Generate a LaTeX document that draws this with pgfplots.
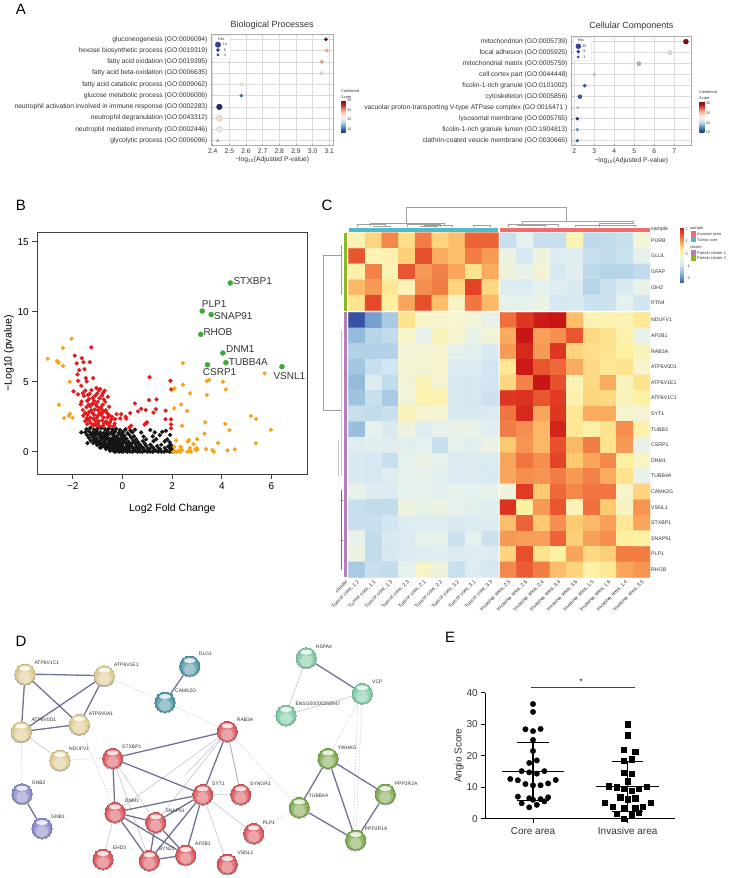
\documentclass[border=0pt]{standalone}
\usepackage{fontspec}
\usepackage{pgfplots}
\pgfplotsset{compat=1.18}
\setmainfont{Liberation Sans}
\newcommand\fs[1]{\fontsize{#1}{#1}\selectfont}
\definecolor{dtext}{HTML}{333333}
\definecolor{edgeA}{HTML}{6E7298}
\definecolor{edgeB}{HTML}{C4C5D6}
\definecolor{hitblue}{HTML}{2F3F95}
\definecolor{antea}{HTML}{4FBAC9}
\definecolor{antred}{HTML}{EE6E6E}
\definecolor{antgreen}{HTML}{8AB825}
\definecolor{antpurple}{HTML}{B57FBD}
\definecolor{ballY}{HTML}{DCCB8E}
\definecolor{ballV}{HTML}{8A8AC8}
\definecolor{ballT}{HTML}{4F97A8}
\definecolor{ballR}{HTML}{D9585E}
\definecolor{ballM}{HTML}{7CC8A4}
\definecolor{ballG}{HTML}{7FA94F}
\definecolor{volred}{HTML}{E31A1C}
\definecolor{volorange}{HTML}{F6A317}
\definecolor{volgreen}{HTML}{3DAA35}
% text at page pixel position
\newcommand\T[4][5]{\node[anchor=west,inner sep=0pt,text=dtext,font=\fs{#1}] at (#2,#3) {#4};}
\newcommand\Bx[5]{\addplot[fill=#1,draw=none,forget plot] coordinates {(#2,#3)(#4,#3)(#4,#5)(#2,#5)} --cycle;}
\newcommand\balls[2]{%
 \addplot[only marks,mark=*,mark size=10.2pt,color=black!30,mark options={line width=0pt,yshift=-.8pt}] coordinates {#2};
 \addplot[only marks,mark=*,mark size=10pt,color=#1!90!black,mark options={line width=0pt}] coordinates {#2};
 \addplot[only marks,mark=*,mark size=9.2pt,color=#1,mark options={line width=0pt}] coordinates {#2};
 \addplot[only marks,mark=*,mark size=7.5pt,color=#1!80!white,mark options={line width=0pt,yshift=-1.5pt}] coordinates {#2};
 \addplot[only marks,mark=*,mark size=5.5pt,color=#1!55!white,mark options={line width=0pt,yshift=-3pt}] coordinates {#2};
 \addplot[only marks,mark=*,mark size=6pt,color=white,mark options={line width=0pt,fill opacity=.8,draw opacity=0,yshift=5.5pt,yscale=.4}] coordinates {#2};
}
\pgfplotsset{
 colormap={rdbu}{rgb255=(27,47,107) rgb255=(46,98,166) rgb255=(90,155,205) rgb255=(169,205,230) rgb255=(220,233,242) rgb255=(247,245,240) rgb255=(249,213,195) rgb255=(244,165,130) rgb255=(214,96,77) rgb255=(165,28,36) rgb255=(127,16,16)},
 colormap={hm}{rgb255=(57,83,164) rgb255=(93,137,193) rgb255=(132,177,214) rgb255=(174,207,229) rgb255=(214,232,242) rgb255=(230,241,238) rgb255=(246,245,208) rgb255=(255,239,156) rgb255=(253,200,112) rgb255=(247,154,85) rgb255=(238,107,59) rgb255=(224,58,34) rgb255=(200,21,21)},
 goplot/.style={
  scale only axis,anchor=south west,clip=false,
  colormap name=rdbu,
  grid=major,major grid style={gray!28,line width=.6pt},
  axis line style={gray!65,line width=.8pt},
  tick style={gray!70,line width=.4pt},major tick length=1.5pt,
  xtick pos=bottom,ytick pos=left,
  ytick={0,...,9},
  tick label style={font=\fs{6.7},text=dtext},
  /pgf/number format/assume math mode=true,
  xticklabel style={/pgf/number format/fixed,/pgf/number format/fixed zerofill,/pgf/number format/precision=1},
  title style={font=\fs{9},text=dtext},
  xlabel style={font=\fs{6.7},text=dtext,yshift=3.5pt},
 },
 gobar/.style={
  scale only axis,width=4.7pt,
  at={(parent axis.south east)},anchor=south west,
  axis line style={draw=none},
  tick style={draw=none},
  ytick pos=right,
  yticklabel style={font=\fs{3.6},text=dtext,xshift=-2pt},
  /pgf/number format/assume math mode=true,
 },
 goscat/.style={scatter,only marks,mark=*,point meta=explicit,
  visualization depends on={\thisrow{s}\as\ms},
  scatter/@pre marker code/.append style={/tikz/mark size=\ms}},
}
\begin{document}
\begin{tikzpicture}[x=1pt,y=1pt]
\path[use as bounding box] (0,0) rectangle (729,878);

% ---- page layer: heat map (C) and network (D), coordinates in picture pixels
\begin{axis}[
 at={(0pt,0pt)},anchor=south west,scale only axis,width=729pt,height=878pt,
 xmin=0,xmax=729,ymin=0,ymax=878,y dir=reverse,clip=false,
 hide axis,no markers,
 colormap name=hm,point meta min=-2.4,point meta max=2.2,
 colorbar,
 colorbar style={scale only axis,width=3.6pt,height=56pt,
  at={(parent axis.south west)},anchor=south west,xshift=671.5pt,yshift=595pt,
  axis line style={draw=none},tick style={draw=none},
  ytick={-2,-1,0,1,2},yticklabels={−2,−1,0,1,2},
  yticklabel style={font=\fs{3.8},text=dtext,xshift=-1.5pt}},
]
\node[font=\fs{15},anchor=center] at (21,9) {A};
\node[font=\fs{15},anchor=center] at (21,205) {B};
\node[font=\fs{15},anchor=center] at (327,205) {C};
\node[font=\fs{15},anchor=center] at (21,641) {D};
\node[font=\fs{15},anchor=center] at (450,637) {E};

% heat map blocks, cell values row by row
\pgfplotsset{hmcell/.style={matrix plot,mesh/cols=9,point meta=explicit,faceted color=gray!55,line width=.35pt}}
\addplot[hmcell] table[row sep=\\,header=false,meta index=0,
 x expr={356.8+16.67*mod(\coordindex,9)},y expr={240.5+15.6*floor((\coordindex+.5)/9)}] {
.1\\.55\\1.2\\.45\\1.3\\.55\\.75\\1.5\\1.5\\
1.6\\.1\\.15\\.6\\1.65\\.9\\.75\\1.3\\1.05\\
.2\\1.25\\.1\\1.6\\1.05\\1.25\\.95\\.4\\.9\\
.8\\1.05\\.35\\.08\\1.15\\1.3\\.55\\1.75\\.5\\
.4\\1.7\\.25\\.95\\1.65\\.75\\0\\1.35\\.8\\
};
\addplot[hmcell] table[row sep=\\,header=false,meta index=0,
 x expr={508.3+16.67*mod(\coordindex,9)},y expr={240.5+15.6*floor((\coordindex+.5)/9)}] {
-1.0\\-.5\\-1\\-1\\.1\\-1.1\\-1.05\\-1\\-.2\\
-.35\\-.85\\-.3\\-.7\\-.6\\-1\\-1.05\\-.95\\-.45\\
-.25\\-.4\\-.15\\-.85\\-.6\\-1.1\\-1.15\\-1.15\\-1.05\\
-.7\\-.7\\-.5\\-.65\\-.8\\-1.15\\-.95\\-.8\\-.4\\
-.45\\-.45\\-.35\\-.85\\-.8\\-.95\\-.95\\-.5\\-.9\\
};
\addplot[hmcell] table[row sep=\\,header=false,meta index=0,
 x expr={356.8+16.67*mod(\coordindex,9)},y expr={320.1+15.6*floor((\coordindex+.5)/9)}] {
-2.4\\-1.8\\-1.3\\.4\\-.05\\-.1\\-.1\\-.2\\-.4\\
-1.5\\-1.15\\-1.05\\-.05\\-.45\\.05\\-.1\\-.4\\-.2\\
-1.2\\-1.2\\-1.2\\-.2\\-.15\\-.1\\-.45\\-.55\\-.8\\
-1.35\\-1\\-.9\\-.15\\-.15\\-.1\\-.7\\-.75\\-.9\\
-1.5\\-.7\\-1.05\\-.2\\.1\\-.15\\-.8\\-.85\\-.9\\
-1.4\\-1\\-1.3\\-.2\\.12\\.15\\-.8\\-.85\\-.95\\
-1\\-1.05\\-1\\.05\\-.15\\-.15\\-.8\\-.8\\-.75\\
-1.45\\-.45\\-.8\\-.3\\-.65\\-.45\\-.4\\-.4\\-.6\\
-.65\\-.6\\-.65\\-.55\\-.5\\-1\\-.45\\-.55\\-.35\\
-.8\\-.85\\-1\\-.45\\-.35\\-.45\\-.75\\-.7\\-.75\\
-.8\\-.85\\-.65\\-.45\\-.45\\-.55\\-.7\\-.7\\-.8\\
-.4\\-.7\\-.75\\-.5\\-.45\\-.55\\-.45\\-.5\\-.4\\
-1\\-1.05\\-1.05\\-.3\\-.4\\-.35\\-.45\\-.55\\-.6\\
-1\\-1\\-.9\\-.7\\-.65\\-.65\\-.8\\-.7\\-.7\\
-.4\\-1.05\\-.8\\-.75\\-.45\\-.45\\-.95\\-.5\\-.95\\
-.3\\-1.05\\-.85\\-.75\\-.65\\-.6\\-.75\\-.65\\-.7\\
-1.3\\-1\\-1.05\\-.5\\-.05\\-.25\\-1\\-.7\\-.85\\
};
\addplot[hmcell] table[row sep=\\,header=false,meta index=0,
 x expr={508.3+16.67*mod(\coordindex,9)},y expr={320.1+15.6*floor((\coordindex+.5)/9)}] {
1.4\\1.85\\2.15\\2.2\\.75\\.1\\.15\\.1\\.35\\
.9\\2.2\\1\\1.15\\1.6\\.5\\.4\\.15\\-.4\\
1.05\\2\\1.05\\1.85\\.55\\.45\\.4\\.25\\.05\\
.35\\2.15\\1.6\\1.45\\.9\\.5\\.35\\.4\\-.05\\
.55\\1.25\\2.2\\1.65\\.1\\.5\\.9\\.05\\.4\\
1.85\\1.9\\1.6\\1.8\\.15\\.55\\.5\\.05\\.25\\
1.35\\2\\.95\\1.85\\.35\\.9\\.9\\-.1\\-.15\\
1.3\\1.15\\.8\\2.05\\.35\\.2\\.4\\1.15\\.18\\
.65\\1.1\\.8\\1.65\\.8\\1.3\\.4\\1.05\\-.4\\
.95\\1.35\\1.15\\1.75\\.65\\.95\\1.2\\.25\\-.02\\
.95\\1.15\\1.1\\1.3\\1.05\\1.25\\.9\\.4\\-.4\\
-.25\\1.8\\.65\\1.45\\1.2\\1.35\\1.35\\-.05\\.55\\
1.9\\.25\\1.05\\1.6\\.08\\1.4\\.65\\0\\1.1\\
.75\\1.5\\.65\\1.15\\.65\\.8\\1\\.35\\.95\\
1.05\\1\\1\\1.5\\.6\\1.0\\1.15\\.25\\.25\\
.55\\1.65\\.4\\.25\\.95\\.5\\.6\\1.3\\1.3\\
1.2\\1.55\\1.3\\.75\\.55\\.2\\.35\\.95\\1.1\\
};
% annotation bars
\Bx{antea}{348.5}{227.7}{498}{231.7}
\Bx{antred}{500}{227.7}{650}{231.7}
\Bx{antgreen}{343.7}{232.7}{347}{310.7}
\Bx{antpurple}{343.7}{312.3}{347}{577.3}
% dendrograms
\addplot[gray!75,line width=.45pt,unbounded coords=jump] table[row sep=\\] {
x y\\
406.3 223\\406.3 207.3\\566.7 207.3\\566.7 221.7\\nan nan\\
370 226\\370 223\\444 223\\444 226\\nan nan\\
357 227\\357 224.5\\385 224.5\\385 227\\nan nan\\
373 227\\373 226\\390 226\\390 227\\nan nan\\
407 227\\407 224.7\\440 224.7\\440 227\\nan nan\\
424 227\\424 225.5\\452 225.5\\452 227\\nan nan\\
420 227\\420 226\\437 226\\437 227\\nan nan\\
473 227\\473 225.5\\490 225.5\\490 227\\nan nan\\
522 223.5\\522 221.7\\633 221.7\\633 223.5\\nan nan\\
508 227\\508 224\\558 224\\558 227\\nan nan\\
517 226\\517 225\\545 225\\545 227\\nan nan\\
575 227\\575 225\\635 225\\635 227\\nan nan\\
599 227\\599 223.5\\634 223.5\\nan nan\\
341 255\\323.3 255\\323.3 410\\341 410\\nan nan\\
341 245\\341 295\\nan nan\\
};
\addplot[gray!45,line width=1pt,unbounded coords=jump] table[row sep=\\] {
x y\\341 330\\341 475\\nan nan\\338.5 440\\338.5 476\\nan nan\\
};
\addplot[black!55,line width=.5pt,unbounded coords=jump] table[row sep=\\] {
x y\\341 490\\341 570\\nan nan\\341 500\\343 500\\nan nan\\341 540\\343 540\\nan nan\\
};
% heat map labels
\T[5.2]{651}{229.5}{sample}
\T[5.2]{651}{240.5}{PURB}\T[5.2]{651}{256.1}{GLUL}\T[5.2]{651}{271.7}{GFAP}\T[5.2]{651}{287.3}{IDH2}\T[5.2]{651}{302.9}{RTN4}
\T[5.2]{651}{320.1}{NDUFV1}\T[5.2]{651}{335.7}{AP2B1}\T[5.2]{651}{351.3}{RAB3A}\T[5.2]{651}{366.9}{ATP6V0D1}\T[5.2]{651}{382.5}{ATP6V1E1}\T[5.2]{651}{398.1}{ATP6V1C1}\T[5.2]{651}{413.7}{SYT1}\T[5.2]{651}{429.3}{TUBB3}\T[5.2]{651}{444.9}{CSRP1}\T[5.2]{651}{460.5}{DNM1}\T[5.2]{651}{476.1}{TUBB4A}\T[5.2]{651}{491.7}{CAMK2G}\T[5.2]{651}{507.3}{VSNL1}\T[5.2]{651}{522.9}{STXBP1}\T[5.2]{651}{538.5}{SNAP91}\T[5.2]{651}{554.1}{PLP1}\T[5.2]{651}{569.7}{RHOB}
\foreach \xx/\lab in {345.5/cluster,356.8/{Tumor core, 1.2},373.5/{Tumor core, 1.1},390.1/{Tumor core, 1.3},406.8/{Tumor core, 2.3},423.5/{Tumor core, 2.1},440.1/{Tumor core, 2.2},456.8/{Tumor core, 3.2},473.5/{Tumor core, 3.1},490.1/{Tumor core, 3.3},508.3/{Invasive area, 2.5},525/{Invasive area, 2.6},541.6/{Invasive area, 2.4},558.3/{Invasive area, 3.4},575/{Invasive area, 3.6},591.6/{Invasive area, 1.5},608.3/{Invasive area, 1.6},625/{Invasive area, 1.4},641.6/{Invasive area, 3.5}}{
 \edef\tmp{\noexpand\node[anchor=north east,rotate=45,inner sep=0pt,text=dtext,font=\noexpand\fs{5.2}] at (axis cs:\xx,579.5) {\lab};}\tmp
}
% heat map legend
\T[4]{690}{228}{sample}
\Bx{antred}{690.7}{231}{695.7}{236.7}
\Bx{antea}{690.7}{236.7}{695.7}{242.3}
\T[4]{697}{234}{Invasive area}\T[4]{697}{240}{Tumor core}
\T[4]{690}{247.3}{cluster}
\Bx{antpurple}{690.7}{250}{695.7}{255.5}
\Bx{antgreen}{690.7}{255.5}{695.7}{261}
\T[4]{697}{252.7}{Protein cluster 1}\T[4]{697}{258.2}{Protein cluster 2}

% network edges, dotted ones first
\addplot[gray!45,dash pattern=on 1.5pt off 1.5pt,line width=.5pt,unbounded coords=jump] table[row sep=\\] {
x y\\
104.3 675.7\\165 702\\nan nan\\165 702\\227.3 731.3\\nan nan\\
79.3 724.3\\115 812.3\\nan nan\\21.3 731.7\\22 793.7\\nan nan\\
60 760\\112.7 758.3\\nan nan\\227.3 731.3\\299.3 807.3\\nan nan\\
299.3 807.3\\253.7 833.3\\nan nan\\362.3 693.3\\328 758.3\\nan nan\\
362.3 693.3\\355.7 840\\nan nan\\358 693.3\\353 840\\nan nan\\
};
\addplot[edgeB,line width=.6pt,unbounded coords=jump] table[row sep=\\] {
x y\\
21.3 731.7\\60 760\\nan nan\\306.3 657.7\\286 715\\nan nan\\286 715\\362.3 693.3\\nan nan\\
227.3 731.3\\115 812.3\\nan nan\\227.3 731.3\\155.7 822.3\\nan nan\\
202.7 794.3\\253.7 833.3\\nan nan\\202.7 794.3\\227.3 864\\nan nan\\
112.7 758.3\\155.7 822.3\\nan nan\\112.7 758.3\\149.3 860.3\\nan nan\\
115 812.3\\103 859\\nan nan\\
227.3 731.3\\185 775\\nan nan\\202.7 794.3\\240.7 794.3\\nan nan\\
};
\addplot[edgeB!60!edgeA,line width=.8pt,unbounded coords=jump] table[row sep=\\] {
x y\\227.3 731.3\\240.7 794.3\\nan nan\\
};
\addplot[edgeA,line width=1.3pt,unbounded coords=jump] table[row sep=\\] {
x y\\
25 674\\104.3 675.7\\nan nan\\25 674\\21.3 731.7\\nan nan\\25 674\\79.3 724.3\\nan nan\\
104.3 675.7\\21.3 731.7\\nan nan\\104.3 675.7\\79.3 724.3\\nan nan\\21.3 731.7\\79.3 724.3\\nan nan\\
189.7 666\\165 702\\nan nan\\22 793.7\\42 828\\nan nan\\306.3 657.7\\362.3 693.3\\nan nan\\
299.3 807.3\\328 758.3\\nan nan\\328 758.3\\355.7 840\\nan nan\\328 758.3\\385.3 794\\nan nan\\
385.3 794\\355.7 840\\nan nan\\299.3 807.3\\355.7 840\\nan nan\\
112.7 758.3\\227.3 731.3\\nan nan\\112.7 758.3\\202.7 794.3\\nan nan\\112.7 758.3\\115 812.3\\nan nan\\
115 812.3\\202.7 794.3\\nan nan\\115 812.3\\155.7 822.3\\nan nan\\115 812.3\\149.3 860.3\\nan nan\\
115 812.3\\185.7 855\\nan nan\\155.7 822.3\\202.7 794.3\\nan nan\\155.7 822.3\\149.3 860.3\\nan nan\\
155.7 822.3\\185.7 855\\nan nan\\202.7 794.3\\149.3 860.3\\nan nan\\202.7 794.3\\185.7 855\\nan nan\\
149.3 860.3\\185.7 855\\nan nan\\227.3 731.3\\202.7 794.3\\nan nan\\
};
% network nodes by cluster
\balls{ballY}{(25,674)(104.3,675.7)(21.3,731.7)(79.3,724.3)(60,760)}
\balls{ballV}{(22,793.7)(42,828)}
\balls{ballT}{(189.7,666)(165,702)}
\balls{ballR}{(112.7,758.3)(115,812.3)(155.7,822.3)(202.7,794.3)(103,859)(149.3,860.3)(185.7,855)(227.3,731.3)(240.7,794.3)(253.7,833.3)(227.3,864)}
\balls{ballM}{(306.3,657.7)(362.3,693.3)(286,715)}
\balls{ballG}{(328,758.3)(385.3,794)(299.3,807.3)(355.7,840)}
\T{34.3}{662.7}{ATP6V1C1}\T{114}{664.3}{ATP6V1E1}\T{31.3}{720}{ATP6V0D1}\T{88.7}{713.7}{ATP6V0A1}
\T{69}{748.7}{NDUFV1}\T{122}{746.7}{STXBP1}\T{31.7}{782.3}{GNB2}\T{51}{816.3}{GNB1}
\T{124.7}{800.3}{DNM1}\T{165.3}{810.7}{SNAP91}\T{212}{783.7}{SYT1}\T{112.7}{847.3}{EHD3}
\T{158.7}{848.7}{SYNJ1}\T{195}{844}{AP2B1}\T{198.7}{653.3}{DLG1}\T{175}{691}{CAMK2G}
\T{236.7}{719.7}{RAB3A}\T{250}{783.7}{SYNGR1}\T{262.7}{822.3}{PLP1}\T{237.3}{852.7}{VSNL1}
\T{315.7}{646.3}{HSPA4}\T{372}{682}{VCP}\T{295.3}{703.3}{ENSG00000258947}\T{337.3}{747.3}{YWHAG}
\T{394.7}{783.3}{PPP2R2A}\T{308.7}{796}{TUBB4A}\T{364.7}{828.7}{PPP2R1A}
% volcano labels
\T[10]{233.3}{281.3}{STXBP1}\T[10]{201.7}{304}{PLP1}\T[10]{214}{316.3}{SNAP91}\T[10]{203.3}{331.7}{RHOB}
\T[10]{226}{349}{DNM1}\T[10]{228.7}{362.3}{TUBB4A}\T[10]{202.7}{372.3}{CSRP1}\T[10]{273.3}{376}{VSNL1}
% colour bar titles of panel A
\T[3.9]{341}{91}{Combined}\T[3.9]{341}{97}{Score}
\T[3.9]{699}{92}{Combined}\T[3.9]{699}{97.7}{Score}
\end{axis}

% ---- A left
\begin{axis}[goplot,at={(211pt,732.7pt)},width=122.3pt,height=111.3pt,
 xmin=2.39,xmax=3.124,ymin=-.41,ymax=9.47,
 xtick={2.4,2.5,2.6,2.7,2.8,2.9,3.0,3.1},
 yticklabels={glycolytic process (GO:0006096),neutrophil mediated immunity (GO:0002446),neutrophil degranulation (GO:0043312),neutrophil activation involved in immune response (GO:0002283),glucose metabolic process (GO:0006006),fatty acid catabolic process (GO:0009062),fatty acid beta-oxidation (GO:0006635),fatty acid oxidation (GO:0019395),hexose biosynthetic process (GO:0019319),gluconeogenesis (GO:0006094)},
 title={Biological Processes},title style={yshift=-5pt},xlabel={−log\textsubscript{10}(Adjusted P-value)},
 point meta min=13,point meta max=30,
 colorbar,colorbar style={gobar,xshift=-.8pt,yshift=12.6pt,height=32pt,ytick={15,20,25,30}},
]
\addplot[fill=white,draw=gray!15,forget plot] coordinates {(2.398,7.31)(2.504,7.31)(2.504,9.38)(2.398,9.38)} --cycle;
\addplot[goscat] table[meta=c] {
x y s c
3.08 9 1.7 30
3.085 8 1.7 24.5
3.055 7 1.7 24.9
3.055 6 1.7 19.5
2.572 5 1.7 21.5
2.572 4 1.6 15.5
2.44 3 2.8 13
2.44 2 2.8 22.7
2.44 1 2.8 20.5
2.43 0 1.4 17.8
};
\addplot[only marks,mark=*,mark size=2.7pt,hitblue] coordinates {(2.432,8.52)};
\addplot[only marks,mark=*,mark size=1.6pt,hitblue] coordinates {(2.432,8.05)};
\addplot[only marks,mark=*,mark size=1.2pt,hitblue] coordinates {(2.432,7.61)};
\node[font=\fs{3.6},text=dtext] at (2.452,8.99) {Hits};
\node[font=\fs{3.6},text=dtext] at (2.474,8.52) {14};
\node[font=\fs{3.6},text=dtext] at (2.474,8.05) {6};
\node[font=\fs{3.6},text=dtext] at (2.474,7.61) {4};
\end{axis}

% ---- A right
\begin{axis}[goplot,at={(571pt,732.3pt)},width=120.7pt,height=109pt,
 xmin=1.835,xmax=7.87,ymin=-.45,ymax=9.45,
 xtick={2,...,7},xticklabel style={/pgf/number format/precision=0},
 yticklabels={clathrin-coated vesicle membrane (GO:0030665),ficolin-1-rich granule lumen (GO:1904813),lysosomal membrane (GO:0005765),vacuolar proton-transporting V-type ATPase complex (GO:0016471 ),cytoskeleton (GO:0005856),ficolin-1-rich granule (GO:0101002),cell cortex part (GO:0044448),mitochondrial matrix (GO:0005759),focal adhesion (GO:0005925),mitochondrion (GO:0005739)},
 title={Cellular Components},title style={yshift=-3pt},xlabel={−log\textsubscript{10}(Adjusted P-value)},
 point meta min=10,point meta max=41.6,
 colorbar,colorbar style={gobar,xshift=-.5pt,yshift=13pt,height=31pt,ytick={10,20,30,40}},
]
\addplot[fill=white,draw=gray!15,forget plot] coordinates {(1.95,7.34)(2.82,7.34)(2.82,9.36)(1.95,9.36)} --cycle;
\addplot[goscat] table[meta=c] {
x y s c
7.58 9 2.5 41.6
6.78 8 2 22.3
5.23 7 2 18.5
3.0 6 1.4 20.4
2.52 5 1.7 13.2
2.28 4 2 13.2
2.17 3 1.2 19.5
2.15 2 1.5 10
2.15 1 1.5 17
2.15 0 1.4 13.2
};
\addplot[only marks,mark=*,mark size=2.5pt,hitblue] coordinates {(2.2,8.58)};
\addplot[only marks,mark=*,mark size=1.6pt,hitblue] coordinates {(2.2,8.09)};
\addplot[only marks,mark=*,mark size=1.1pt,hitblue] coordinates {(2.2,7.61)};
\node[font=\fs{3.6},text=dtext] at (2.33,9.15) {Hits};
\node[font=\fs{3.6},text=dtext] at (2.5,8.58) {30};
\node[font=\fs{3.6},text=dtext] at (2.5,8.09) {9};
\node[font=\fs{3.6},text=dtext] at (2.5,7.61) {3};
\end{axis}

% ---- B volcano
\begin{axis}[scale only axis,anchor=south west,at={(37.3pt,403.7pt)},width=270pt,height=241.6pt,
 xmin=-3.43,xmax=7.44,ymin=-1.61,ymax=15.64,
 xtick={-2,0,2,4,6},xticklabels={−2,0,2,4,6},
 ytick={0,5,10,15},
 xtick pos=bottom,ytick pos=left,tick align=outside,major tick length=5pt,
 axis line style={black!75,line width=1pt},tick style={black!75,line width=.7pt},
 tick label style={font=\fs{10}},
 /pgf/number format/assume math mode=true,
 xlabel={Log2 Fold Change},ylabel={−Log10 (pvalue)},
 label style={font=\fs{10.5}},
 xlabel style={yshift=-7pt},ylabel style={yshift=-3pt},
]
\addplot[only marks,mark=*,mark size=1.95pt,black!92] coordinates {
(-1.66,1.38)(-1.41,.62)(-.9,.29)
(-1.45,1.62)(-1.3,1.68)(-1.15,1.58)(-1,1.64)(-.85,1.7)(-.7,1.6)(-.55,1.66)(-.4,1.58)(-.25,1.63)(-.1,1.55)(.12,1.6)(.32,1.52)(.5,1.58)(1.12,1.55)(1.75,1.5)
(-1.5,1.38)(-1.35,1.45)(-1.2,1.36)(-1.05,1.46)(-.9,1.4)(-.75,1.36)(-.6,1.47)(-.45,1.38)(-.3,1.44)(-.15,1.34)(.02,1.42)(.2,1.33)(.4,1.4)(.75,1.38)(1.3,1.38)(1.6,1.42)
(-1.42,1.18)(-1.28,1.24)(-1.12,1.16)(-.98,1.26)(-.84,1.2)(-.7,1.14)(-.55,1.24)(-.38,1.18)(-.22,1.12)(-.08,1.22)(.08,1.14)(.28,1.2)(.46,1.1)(.85,1.08)(1.22,1.1)(1.5,1.18)(1.92,1.2)
(-1.35,1)(-1.2,1.05)(-1.05,.96)(-.92,1.06)(-.78,.98)(-.62,1.04)(-.48,.95)(-.32,1.02)(-.16,.94)(0,1.03)(.16,.93)(.36,1)(.55,.9)(.95,.88)(1.36,.9)(1.8,.88)
(-1.28,.8)(-1.14,.86)(-1,.78)(-.86,.85)(-.72,.76)(-.56,.84)(-.42,.75)(-.26,.82)(-.1,.74)(.06,.8)(.24,.72)(.44,.79)(.62,.7)(.82,.76)(1.25,.76)(1.7,.74)(1.9,.68)
(-1.18,.62)(-1.04,.67)(-.9,.6)(-.76,.66)(-.62,.58)(-.48,.64)(-.34,.56)(-.18,.62)(-.02,.55)(.14,.6)(.32,.54)(.52,.6)(.7,.52)(.9,.58)(1.12,.5)(1.56,.5)(1.95,.48)
(-1.02,.48)(-.88,.44)(-.74,.5)(-.6,.42)(-.46,.48)(-.32,.4)(-.16,.46)(0,.4)(.18,.44)(.36,.38)(.56,.43)(.76,.36)(.96,.42)(1.18,.36)(1.4,.4)(1.84,.38)(2,.3)
(-.84,.34)(-.7,.3)(-.56,.34)(-.42,.28)(-.28,.33)(-.12,.27)(.04,.31)(.22,.26)(.42,.3)(.62,.24)(.82,.29)(1.02,.24)(1.24,.28)(1.46,.23)(1.7,.27)(1.92,.22)
(-.66,.2)(-.52,.16)(-.38,.2)(-.24,.15)(-.08,.2)(.08,.15)(.28,.19)(.48,.14)(.68,.18)(.88,.13)(1.08,.18)(1.3,.12)(1.52,.17)(1.76,.12)(1.98,.16)
(-.5,.07)(-.36,.05)(-.22,.08)(-.06,.03)(.12,.07)(.3,.02)(.5,.06)(.7,.01)(.9,.06)(1.12,.01)(1.34,.06)(1.56,.01)(1.8,.05)(2,.02)
(-.3,0)(-.14,0)(.02,0)(.2,0)(.4,0)(.6,0)(.8,0)(1,0)(1.22,0)(1.44,0)(1.68,0)(1.9,0)
(-1.08,1.3)(-.94,.72)(-.8,.52)(-.66,.9)(-.52,.72)(-.38,.9)(-.24,.6)(-.1,.5)(.04,.66)(.16,.3)(.1,.9)(-.02,1.25)(-.36,1.28)(-.64,1.3)(-.82,1.02)(-1.1,.7)(-.96,.55)(-.7,.4)(-.56,.5)(-.44,.6)(-.3,.72)(-.18,.28)(-.04,.1)(-.12,.38)(.28,.5)(.4,.62)(.54,.28)(.68,.46)(-.2,.82)(-.06,.92)
};
\addplot[only marks,mark=*,mark size=1.95pt,volred] coordinates {
(-1.26,7.45)(-1.92,6.86)(-1.64,6.69)(-1.57,6.4)(-1.32,6.4)(-1.84,6.31)(-1.74,5.83)(-1.53,5.9)(-1.81,5.52)(-1.48,5.26)(-1.18,5.26)(-1.79,5.07)(-1.44,5.02)(-1.97,4.31)(-1.66,4.71)(-1.79,4.1)
(1.09,5.33)(1.93,5.07)(1.96,4.45)(.5,3.45)(1.07,3.69)(1.37,3.74)(.75,3.07)(.93,2.98)(.62,2.88)(.31,2.76)(1.34,3.05)(1.25,2.79)(1.74,2.93)(1.73,2.33)(1.95,2.31)(.13,2.5)(.15,2.36)(-.05,2.69)(-.24,2.69)(-.43,2.5)(-.09,2.38)(-.3,2.33)(-.54,3.21)(-.59,3.93)(.89,1.95)(.99,2.1)(.94,2.02)(.27,1.74)(.35,1.86)(1.95,1.95)(1.95,1.67)
(-1.05,4.55)(-.9,4.48)
(-1.5,4.36)(-1.25,4.4)(-.95,4.38)(-.72,4.36)
(-1.6,4.18)(-1.32,4.14)(-1.02,4.16)(-.78,4.2)
(-1.55,3.98)(-1.4,4.04)(-1.1,4)(-.83,4.02)
(-1.35,3.76)(-1.2,3.84)(-.92,3.82)(-.75,3.74)
(-1.65,3.58)(-1.42,3.64)(-1.14,3.62)(-1,3.56)(-.7,3.58)
(-1.68,3.38)(-1.36,3.36)(-1.22,3.42)(-1.08,3.38)(-.8,3.36)
(-1.45,3.18)(-1.3,3.24)(-1.02,3.22)(-.88,3.16)
(-1.6,2.98)(-1.26,2.96)(-1.12,3.02)(-.98,2.96)(-.84,3.04)(-.68,2.96)
(-1.5,2.78)(-1.34,2.84)(-1.2,2.76)(-.92,2.78)(-.78,2.84)(-.62,2.76)
(-1.58,2.58)(-1.4,2.64)(-1.14,2.62)(-1,2.58)(-.86,2.64)(-.55,2.62)
(-1.44,2.38)(-1.3,2.44)(-1.18,2.36)(-1.04,2.42)(-.76,2.44)(-.6,2.46)(-.45,2.32)
(-1.5,2.18)(-1.36,2.24)(-1.1,2.22)(-.96,2.18)(-.82,2.24)(-.66,2.16)(-.5,2.12)
(-1.42,1.98)(-1.28,2.04)(-1.14,1.96)(-1,2.02)(-.74,2.04)(-.6,1.98)(-.32,2)
(-1.2,1.85)(-1.06,1.88)(-.92,1.82)(-.78,1.86)(-.5,1.82)(-.35,1.84)
};
\addplot[only marks,mark=*,mark size=1.95pt,volorange] coordinates {
(-3.01,6.64)(-2.63,6.48)(-2.58,6.36)(-2.39,6.12)(-2.4,7.4)(-2.05,8.07)(-2.13,5)(-2.56,3.36)(-2.35,2.4)(-2.16,2.57)(-2.12,2.71)(-2.01,2.43)
(2.43,6.33)(2.09,4.52)(2.44,4.79)(2.72,4.17)(3.4,5.05)(3.5,5.12)(4.04,5)(4.16,4.45)(3.4,4.05)(5.72,5.6)(2.08,3.1)(2.36,3.38)(2.6,2.93)(2.4,1.86)(3.33,2.1)(3.3,1.29)(4.13,2)(4.31,1.55)(5.17,2.55)(5.38,2.33)(5.97,1.57)(5.37,.6)(3.85,.62)(3.01,.9)(2.16,.81)(2.68,.83)(2.63,.74)(2.86,.55)(2.08,.36)(2.34,.36)(2.72,.26)(2.99,.24)(3.36,.19)(3.62,.12)(3.68,0)(4.23,.1)(4.52,.17)
(2.05,0)(2.12,.02)(2.19,0)(2.26,.07)(2.32,0)(2.39,.12)(2.62,0)(2.7,.07)(2.75,0)(2.93,.17)(2.97,.12)(3.01,.17)
};
\addplot[only marks,mark=*,mark size=2.5pt,volgreen] coordinates {
(4.34,12.05)(3.21,10.05)(3.57,9.79)(3.15,8.38)(4.04,7.05)(4.16,6.36)(3.42,6.21)(6.42,6.07)
};
\end{axis}

% ---- E scatter
\begin{axis}[scale only axis,anchor=south west,at={(485.3pt,59.3pt)},width=189.7pt,height=126pt,
 xmin=.496,xmax=2.5,ymin=0,ymax=40,clip=false,
 axis x line=bottom,axis y line=left,
 axis line style={-,black,line width=1.1pt},
 tick align=outside,major tick length=4pt,tick style={black,line width=1pt},
 xtick={1,2},xticklabels={Core area,Invasive area},ytick={0,10,20,30,40},
 tick label style={font=\fs{10},text=dtext},
 /pgf/number format/assume math mode=true,
 ylabel={Angio Score},ylabel style={font=\fs{10},text=dtext,yshift=-4pt},
 xticklabel style={yshift=-1pt},
]
\addplot[only marks,mark=*,mark size=2.7pt,black] coordinates {
(1,36.4)(1,33.9)(.92,28.4)(1,27.8)(1.08,28.5)(1,25)(1,21.5)(.96,17.7)(1.04,18.5)(.88,15.1)(.96,14.7)(1.04,14.3)(1.12,15.1)(.76,12.6)(.84,12.2)(.92,11)(1,10.6)(1.08,10.6)(1.16,11.2)(1.24,12.3)(.84,7)(.96,6.5)(1.08,6.2)(1.16,6.8)(.88,4.9)(1.04,4.4)(.96,3.6)(1.12,5.5)(1,6)
};
\addplot[only marks,mark=square*,mark size=2.6pt,black] coordinates {
(2,30)(2,26.5)(1.96,21.8)(2.08,21.2)(1.96,18.5)(2.04,18.9)(1.96,14.6)(2.04,14.3)(2,11.9)(1.8,10.3)(1.88,10)(1.96,9.4)(2.04,9)(2.12,9.5)(2.2,10.2)(2,6.2)(1.92,6.8)(2.08,6.5)(1.76,5.2)(2.24,5.1)(1.84,3.8)(1.96,3.6)(2.08,3.5)(2.16,3.7)(1.88,1.6)(2.04,1.2)(2.12,1.8)(1.96,0)
};
\addplot[black,line width=1.2pt,unbounded coords=jump] table[row sep=\\] {
x y\\.67 15.1\\1.33 15.1\\nan nan\\.835 24.3\\1.165 24.3\\nan nan\\.835 5.8\\1.165 5.8\\nan nan\\1 5.8\\1 24.3\\nan nan\\
1.665 10.2\\2.335 10.2\\nan nan\\1.835 18.1\\2.165 18.1\\nan nan\\1.835 2.4\\2.165 2.4\\nan nan\\2 2.4\\2 18.1\\nan nan\\
};
\addplot[black!75,line width=.8pt] coordinates {(.975,41.8)(2.08,41.8)};
\node[font=\fs{8}] at (1.51,43.6) {*};
\end{axis}
\end{tikzpicture}
\end{document}
